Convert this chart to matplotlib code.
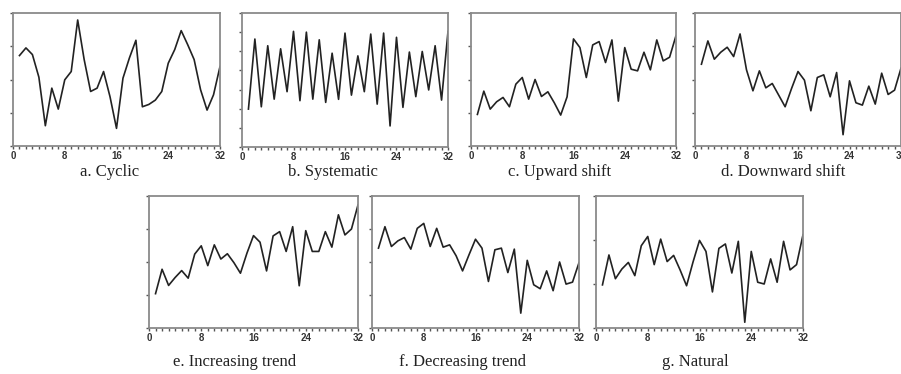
import numpy as np
import matplotlib
matplotlib.use('Agg')
import matplotlib.pyplot as plt
from matplotlib.ticker import MultipleLocator

# sample index (1..32) shared by all panels
samples = list(range(1, 33))

cyclic = [2.72, 2.95, 2.75, 2.07, 0.61, 1.74, 1.11, 1.99, 2.24, 3.79, 2.60, 1.64, 1.74, 2.24, 1.48, 0.53,
          2.04, 2.65, 3.18, 1.18, 1.25, 1.38, 1.64, 2.49, 2.90, 3.47, 3.05, 2.60, 1.69, 1.08, 1.54, 2.39]
systematic = [1.98, 5.64, 2.10, 5.29, 2.50, 5.13, 2.89, 6.04, 2.42, 6.00, 2.50, 5.60, 2.33, 4.90, 2.49, 5.95,
              2.71, 4.76, 2.89, 5.90, 2.24, 5.95, 1.10, 5.73, 2.07, 4.96, 2.63, 4.99, 2.98, 5.29, 2.45, 6.04]
upward = [0.95, 1.65, 1.11, 1.33, 1.46, 1.18, 1.86, 2.06, 1.41, 2.00, 1.49, 1.63, 1.30, 0.93, 1.48, 3.22,
          2.96, 2.06, 3.04, 3.14, 2.51, 3.19, 1.35, 2.96, 2.31, 2.26, 2.82, 2.29, 3.19, 2.56, 2.67, 3.32]
downward = [2.46, 3.16, 2.61, 2.82, 2.97, 2.69, 3.37, 2.29, 1.66, 2.26, 1.75, 1.88, 1.53, 1.18, 1.73, 2.24,
            1.98, 1.06, 2.06, 2.14, 1.48, 2.21, 0.34, 1.96, 1.30, 1.23, 1.80, 1.26, 2.19, 1.55, 1.68, 2.34]
increasing = [1.04, 1.78, 1.29, 1.53, 1.74, 1.51, 2.24, 2.49, 1.89, 2.52, 2.09, 2.25, 1.98, 1.66, 2.27, 2.80,
              2.60, 1.73, 2.79, 2.92, 2.32, 3.07, 1.28, 2.95, 2.32, 2.32, 2.92, 2.45, 3.43, 2.82, 3.00, 3.73]
decreasing = [2.42, 3.07, 2.47, 2.64, 2.74, 2.39, 3.02, 3.17, 2.47, 3.02, 2.45, 2.52, 2.19, 1.73, 2.22, 2.69,
              2.42, 1.41, 2.37, 2.42, 1.68, 2.39, 0.45, 2.05, 1.31, 1.19, 1.73, 1.13, 2.00, 1.33, 1.39, 1.98]
natural = [0.98, 1.66, 1.12, 1.34, 1.49, 1.19, 1.87, 2.08, 1.44, 2.02, 1.51, 1.65, 1.32, 0.96, 1.50, 1.99,
           1.74, 0.82, 1.81, 1.91, 1.25, 1.97, 0.13, 1.74, 1.04, 1.00, 1.57, 1.04, 1.97, 1.32, 1.44, 2.12]

captions = ['a. Cyclic', 'b. Systematic', 'c. Upward shift', 'd. Downward shift',
            'e. Increasing trend', 'f. Decreasing trend', 'g. Natural']
series = [cyclic, systematic, upward, downward, increasing, decreasing, natural]
ymax = [4, 7, 4, 4, 4, 4, 3]
xtick_labels = ['0', '8', '16', '24', '32']

W, H = 901, 374
fig = plt.figure(figsize=(W / 100, H / 100), dpi=100)

# panel boxes in pixels: left, right, top, bottom
boxes = [(13, 220, 13, 146), (242, 448, 13, 147), (471, 676, 13, 146), (695, 901, 13, 146),
         (149, 358, 196, 328), (372, 579, 196, 328), (596, 803, 196, 328)]
# caption centres in pixels
cap_pos = [(110, 172), (333, 172), (560, 172), (783, 172),
           (235, 362), (462, 362), (695, 362)]

for i in range(7):
    l, r, t, b = boxes[i]
    ax = fig.add_axes([l / W, 1 - b / H, (r - l) / W, (b - t) / H])
    ax.plot(samples, series[i], color='#222222', lw=1.2)
    ax.set_xlim(0, 32)
    ax.set_ylim(0, ymax[i])
    ax.set_xticks([0, 8, 16, 24, 32])
    ax.set_xticklabels(xtick_labels, fontsize=7, family='Liberation Sans', fontweight='bold', color='#333333')
    ax.xaxis.set_minor_locator(MultipleLocator(1))
    ax.set_yticks(range(0, ymax[i] + 1))
    ax.set_yticklabels([])
    ax.tick_params(axis='both', which='major', length=2.5, width=1, color='#555555', pad=1)
    ax.tick_params(axis='x', which='minor', length=2, width=1, color='#555555')
    for s in ax.spines.values():
        s.set_color('#8a8a8a')
        s.set_linewidth(1.3)
    cx, cy = cap_pos[i]
    fig.text(cx / W, 1 - cy / H, captions[i], ha='center', va='center',
             fontsize=12, family='Liberation Serif', color='#222222')

fig.savefig('out.png', dpi=100)
